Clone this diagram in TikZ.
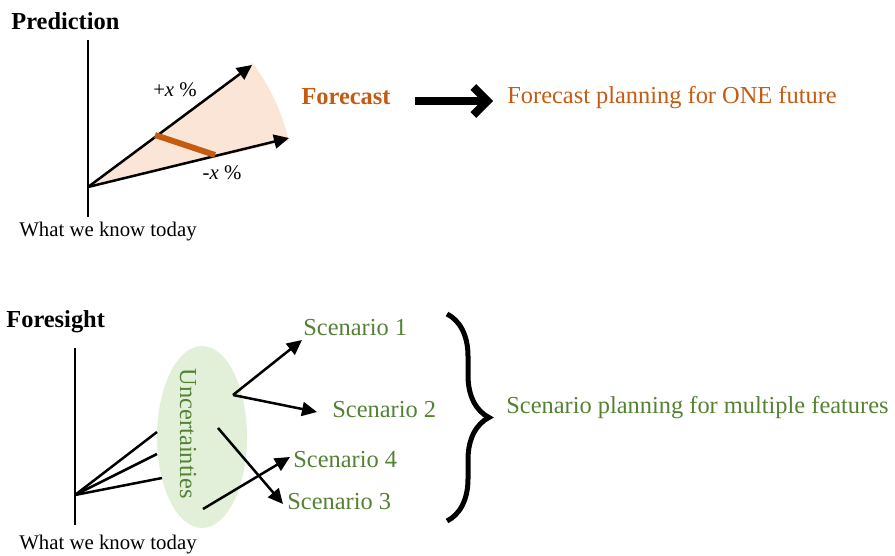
\documentclass[tikz,border=0pt]{standalone}
\usepackage{fontspec}
\setmainfont{Liberation Serif}
\usetikzlibrary{arrows.meta,decorations.pathreplacing}

\definecolor{fcorange}{RGB}{197,90,17}
\definecolor{fanfill}{RGB}{251,229,214}
\definecolor{scgreen}{RGB}{84,130,53}
\definecolor{uncfill}{RGB}{226,240,217}

\begin{document}
\begin{tikzpicture}[
        x=0.5pt, y=0.5pt,
        big/.style={font=\fontsize{12.2}{14}\selectfont, inner sep=0pt},
        small/.style={font=\fontsize{10.4}{12}\selectfont, inner sep=0pt},
        axis/.style={line width=1pt, black},
        ray/.style={-{Triangle[length=7.5pt, width=7pt]}, line width=1.25pt, black},
        spoke/.style={line width=1.25pt, black},
        scenario/.style={big, anchor=west, text=scgreen}
    ]
        \useasboundingbox (0,0) rectangle (895,-556);

        % Parametros
        \def\fanr{206}

        % ---------------- Prediction ----------------
        \node[big, font=\fontsize{12.2}{14}\selectfont\bfseries, anchor=west] (pred) at (11,-21) {Prediction};

        \coordinate (o1) at (88,-187);
        \coordinate (uptip) at (252,-65);
        \coordinate (lowtip) at (289,-138);

        % Abanico
        \fill[fanfill] (o1) -- ++(37:\fanr) arc[start angle=37, end angle=13, radius=\fanr] -- cycle;

        % Eje
        \draw[axis] (88,-40) -- (88,-217);

        % Flechas
        \draw[ray] (o1) -- (uptip);
        \draw[ray] (o1) -- (lowtip);

        % Banda
        \draw[fcorange, line width=3pt] (155,-135) -- (215,-155);

        \node[small] (plus) at (175,-90) {+\textit{x} \%};
        \node[small] (minus) at (222,-173) {-\textit{x} \%};
        \node[small] (today1) at (108,-232) {What we know today};

        % Forecast
        \node[big, font=\fontsize{12.2}{14}\selectfont\bfseries, text=fcorange] (fc) at (346,-97) {Forecast};
        \node[big, anchor=west, text=fcorange] (fcplan) at (507,-98) {Forecast planning for ONE future};
        \draw[line width=4pt, -{Straight Barb[length=7pt, width=14pt]}] (fc.east) ++(24,-4) coordinate (bigstart) -- ([xshift=-7pt]fcplan.west |- bigstart);

        % ---------------- Foresight ----------------
        \node[big, font=\fontsize{12.2}{14}\selectfont\bfseries, anchor=west] (fore) at (6,-322) {Foresight};

        \coordinate (o2) at (75,-495);

        % Incertidumbre
        \fill[uncfill] (202,-437) ellipse[x radius=45, y radius=91];
        \node[big, rotate=-90, text=scgreen] (unc) at (188,-434) {Uncertainties};

        % Eje
        \draw[axis] (75,-348) -- (75,-525);

        % Rayos hacia la elipse
        \draw[spoke] (o2) -- (157,-432);
        \draw[spoke] (o2) -- (157,-454);
        \draw[spoke] (o2) -- (162,-478);

        % Escenarios
        \node[scenario] (sc1) at (303,-328) {Scenario 1};
        \node[scenario] (sc2) at (332,-410) {Scenario 2};
        \node[scenario] (sc4) at (293,-460) {Scenario 4};
        \node[scenario] (sc3) at (287,-502) {Scenario 3};

        \coordinate (fork) at (233,-395);
        \draw[ray] (fork) -- (302,-340);
        \draw[ray] (fork) -- (317,-412);
        \draw[ray] (218,-428) -- (283,-504);
        \draw[ray] (203,-509) -- (290,-457);

        \node[small] (today2) at (108,-545) {What we know today};

        % Llave
        \draw[line width=2.5pt, decorate, decoration={brace, amplitude=21pt}] (447,-314) -- (447,-521);
        \node[scenario] (scplan) at (506,-408) {Scenario planning for multiple features};

    \end{tikzpicture}
\end{document}
